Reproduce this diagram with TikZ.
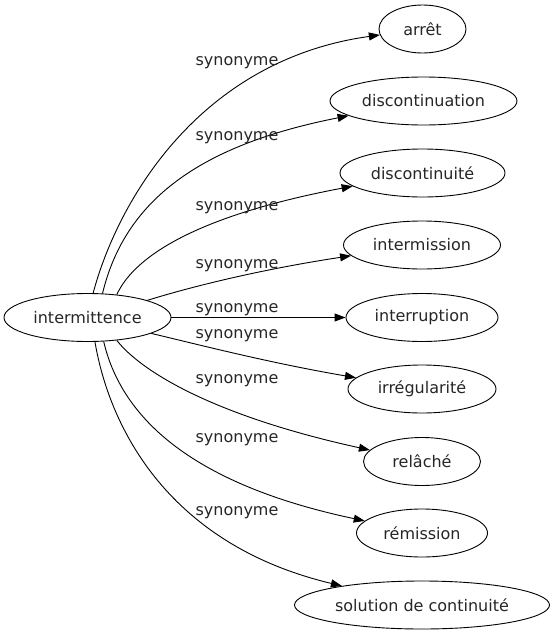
\documentclass[tikz,border=0pt]{standalone}
\usepackage{fontspec}
\setmainfont{DejaVu Sans}
\usetikzlibrary{arrows.meta,shapes.geometric}
\begin{document}
\begin{tikzpicture}[x=1pt,y=-1pt,
  every node/.style={font=\fontsize{16}{19}\selectfont, text=black!85},
  word/.style={draw=black, ellipse, inner sep=0pt, line width=0.9pt, minimum height=48pt},
  lab/.style={anchor=base, inner sep=0pt},
  link/.style={line width=0.9pt, -{Triangle[length=11pt,width=8pt]}}]
\useasboundingbox (0,0) rectangle (555,635);
\node[word, minimum width=167pt] (im) at (87.5,317.5) {intermittence};
\node[word, minimum width=87pt]  (n1) at (422.5,29)  {arrêt};
\node[word, minimum width=187pt] (n2) at (423.5,101) {discontinuation};
\node[word, minimum width=165pt] (n3) at (422.5,173) {discontinuité};
\node[word, minimum width=157pt] (n4) at (422,245)   {intermission};
\node[word, minimum width=152pt] (n5) at (422,317.5) {interruption};
\node[word, minimum width=148pt] (n6) at (422,389)   {irrégularité};
\node[word, minimum width=117pt] (n7) at (422,461.5) {relâché};
\node[word, minimum width=131pt] (n8) at (422,533)   {rémission};
\node[word, minimum width=255pt] (n9) at (422,605)   {solution de continuité};

\draw[link] (im.77)  .. controls (118,200) and (200,60)  .. (n1);
\draw[link] (im.58)  .. controls (125,200) and (200,145) .. (n2);
\draw[link] (im.38)  .. controls (135,255) and (200,215) .. (n3);
\draw[link] (im.16)  .. controls (200,284) and (270,268) .. (n4);
\draw[link] (im) -- (n5);
\draw[link] (im.-14) .. controls (200,345) and (270,363) .. (n6);
\draw[link] (im.-38) .. controls (140,370) and (210,415) .. (n7);
\draw[link] (im.-56) .. controls (122,420) and (195,485) .. (n8);
\draw[link] (im.-73) .. controls (110,430) and (170,545) .. (n9);

\node[lab] (l1) at (237,65)  {synonyme};
\node[lab] (l2) at (237,140) {synonyme};
\node[lab] (l3) at (237,210) {synonyme};
\node[lab] (l4) at (237,268) {synonyme};
\node[lab] (l5) at (237,312) {synonyme};
\node[lab] (l6) at (237,338) {synonyme};
\node[lab] (l7) at (237,383) {synonyme};
\node[lab] (l8) at (237,442) {synonyme};
\node[lab] (l9) at (237,515) {synonyme};
\end{tikzpicture}
\end{document}
